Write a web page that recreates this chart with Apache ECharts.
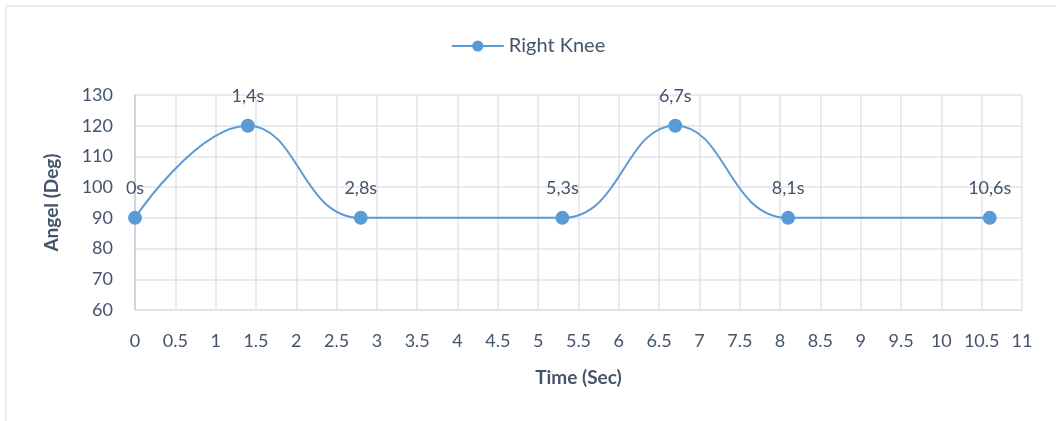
<!DOCTYPE html>
<html>
<head>
<meta charset="utf-8">
<script src="https://cdn.jsdelivr.net/npm/echarts@6/dist/echarts.min.js"></script>
<style>
  html, body { margin: 0; padding: 0; background: #fff; }
  #chart { width: 1056px; height: 421px; }
</style>
</head>
<body>
<div id="chart"></div>
<script>
// 时间点 (秒) 和 角度
const times = [0, 1.4, 2.8, 5.3, 6.7, 8.1, 10.6]
const angles = [90, 120, 90, 90, 120, 90, 90]
const pointLabels = ['0s', '1,4s', '2,8s', '5,3s', '6,7s', '8,1s', '10,6s']
const seriesName = 'Right Knee'

const textColor = '#44546a'
const gridColor = '#dfe3e8'
const lineColor = '#5b9bd5'

const chart = echarts.init(document.getElementById('chart'))

const option = {
  animation: false,
  textStyle: { fontFamily: 'Lato' },
  graphic: [{
    type: 'rect',
    shape: { x: 6, y: 6, width: 1060, height: 420 },
    style: { fill: 'none', stroke: '#e3e6ea', lineWidth: 1.5 }
  }],
  legend: {
    top: 31,
    left: 'center',
    itemWidth: 52,
    itemHeight: 14,
    itemGap: 6,
    textStyle: { color: textColor, fontSize: 20 },
    data: [seriesName]
  },
  grid: {
    left: 135,
    right: 34,
    top: 95,
    bottom: 111
  },
  xAxis: {
    type: 'value',
    min: 0,
    max: 11,
    interval: 0.5,
    name: 'Time (Sec)',
    nameLocation: 'middle',
    nameGap: 58,
    nameTextStyle: { color: textColor, fontSize: 19, fontWeight: 'bold' },
    axisLine: { lineStyle: { color: gridColor, width: 1.5 } },
    axisTick: { show: false },
    axisLabel: { color: textColor, fontSize: 18, margin: 22 },
    splitLine: { lineStyle: { color: gridColor, width: 1.5 } }
  },
  yAxis: {
    type: 'value',
    min: 60,
    max: 130,
    interval: 10,
    name: 'Angel (Deg)',
    nameLocation: 'middle',
    nameGap: 74,
    nameTextStyle: { color: textColor, fontSize: 19, fontWeight: 'bold' },
    axisLine: { show: true, lineStyle: { color: '#c9ced6', width: 1.5 } },
    axisTick: { show: false },
    axisLabel: { color: textColor, fontSize: 18, margin: 22 },
    splitLine: { lineStyle: { color: gridColor, width: 1.5 } }
  },
  series: [{
    name: seriesName,
    type: 'line',
    smooth: 0.45,
    symbol: 'circle',
    symbolSize: 14,
    itemStyle: { color: lineColor },
    lineStyle: { color: lineColor, width: 2 },
    label: {
      show: true,
      position: 'top',
      distance: 14,
      color: textColor,
      fontSize: 18,
      formatter: p => pointLabels[p.dataIndex]
    },
    data: times.map((t, i) => [t, angles[i]])
  }]
}

chart.setOption(option)
</script>
</body>
</html>
